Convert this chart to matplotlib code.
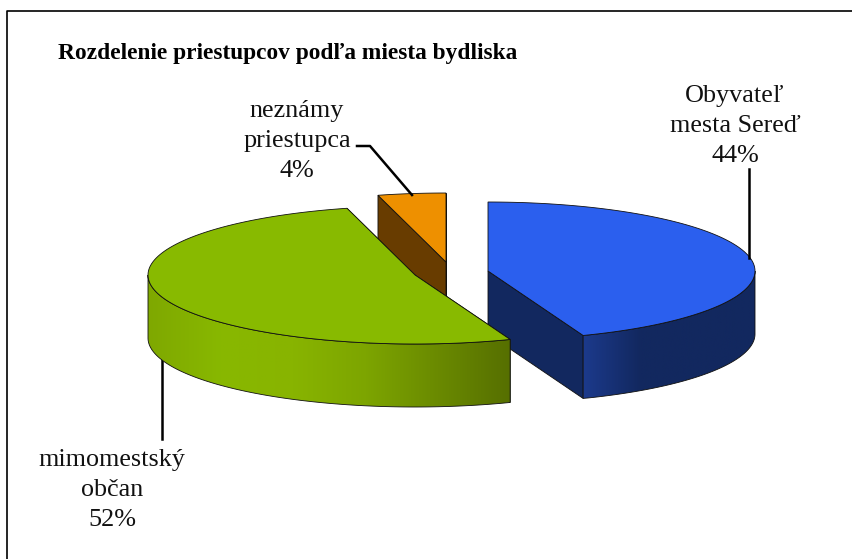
import numpy as np
import matplotlib.pyplot as plt
from matplotlib.colors import LinearSegmentedColormap
from matplotlib.patches import Polygon

categories = ['Obyvateľ\nmesta Sereď', 'mimomestský\nobčan', 'neznámy\npriestupca']
values = [44.2, 51.7, 4.1]
title = 'Rozdelenie priestupcov podľa miesta bydliska'

# layout in picture pixels
W, H = 853, 559
RX, RY, DEPTH = 267, 69, 63
centers = [(488, 271), (415, 275), (446, 262)]
top_colors = ['#2b5fee', '#88ba00', '#ee9000']
wall_colors = ['#12285f', '#6d8f00', '#683c00']
wall_stops = [['#1c3a8c', '#12285f', '#12285f', '#12285f'],
              ['#7fa800', '#88b800', '#88b400', '#7da500', '#6a8a00', '#566f00'],
              ['#683c00', '#683c00']]

plt.rcParams['font.family'] = ['Liberation Serif', 'DejaVu Serif']


def rim(c, t0, t1, n=120, dy=0):
    # points of the squashed circle, angle clockwise from 12 o'clock
    t = np.radians(np.linspace(t0, t1, n))
    return np.c_[c[0] + RX * np.sin(t), c[1] - RY * np.cos(t) + dy]


def draw_slice(ax, c, t0, t1, top, wall, stops, z):
    # flat walls running in to the apex
    for t in (t0, t1):
        p = rim(c, t, t, 1)[0]
        if np.cos(np.radians(t)) < 0 and t < 180 or t > 270:
            ax.add_patch(Polygon([c, p, p + [0, DEPTH], (c[0], c[1] + DEPTH)], closed=True,
                                 fc=wall, ec='#101010', lw=0.6, zorder=z))
    # outer wall, only the part that faces the viewer
    a, b = max(t0, 90), min(t1, 270)
    if a < b:
        front = rim(c, a, b)
        pts = np.r_[front, (front + [0, DEPTH])[::-1]]
        poly = Polygon(pts, closed=True, fc='none', ec='#101010', lw=0.6, zorder=z + 0.2)
        ax.add_patch(poly)
        cmap = LinearSegmentedColormap.from_list('w', stops)
        grad = np.linspace(0, 1, 256)[None, :]
        im = ax.imshow(grad, cmap=cmap, aspect='auto', zorder=z + 0.1,
                       extent=(pts[:, 0].min(), pts[:, 0].max(), pts[:, 1].max(), pts[:, 1].min()))
        im.set_clip_path(poly)
    arc = rim(c, t0, t1)
    ax.add_patch(Polygon(np.r_[[c], arc], closed=True, fc=top, ec='#101010', lw=0.6, zorder=z + 0.3))


fig = plt.figure(figsize=(W / 100, H / 100), dpi=100)
ax = fig.add_axes([0, 0, 1, 1])

angle = 0
for i, v in enumerate(values):
    sweep = 360 * v / sum(values)
    draw_slice(ax, centers[i], angle, angle + sweep, top_colors[i], wall_colors[i], wall_stops[i],
               {0: 3, 1: 5, 2: 2}[i])
    angle += sweep

ax.set_xlim(0, W)
ax.set_ylim(H, 0)
ax.axis('off')

# chart border, only left and top show
ax.plot([7.5, 7.5, W], [H, 10.5, 10.5], color='black', lw=1.2, zorder=1)

# leader lines
ax.plot([749, 749], [169, 258], color='black', lw=1.8, zorder=8)
ax.plot([162, 162], [358, 439], color='black', lw=1.8, zorder=1)
ax.plot([357, 370, 412], [146, 146, 195], color='black', lw=1.8, zorder=8)

ax.text(58, 53, title, fontsize=16.8, fontweight='bold', color='black', va='center', ha='left')
label_pos = [(735, 126), (112, 490), (297, 141)]
for i, cat in enumerate(categories):
    ax.text(label_pos[i][0], label_pos[i][1], f'{cat}\n{values[i]:.0f}%', fontsize=18.8, color='#111111',
            ha='center', va='center', multialignment='center', linespacing=1.49)

fig.savefig('out.png', dpi=100)
